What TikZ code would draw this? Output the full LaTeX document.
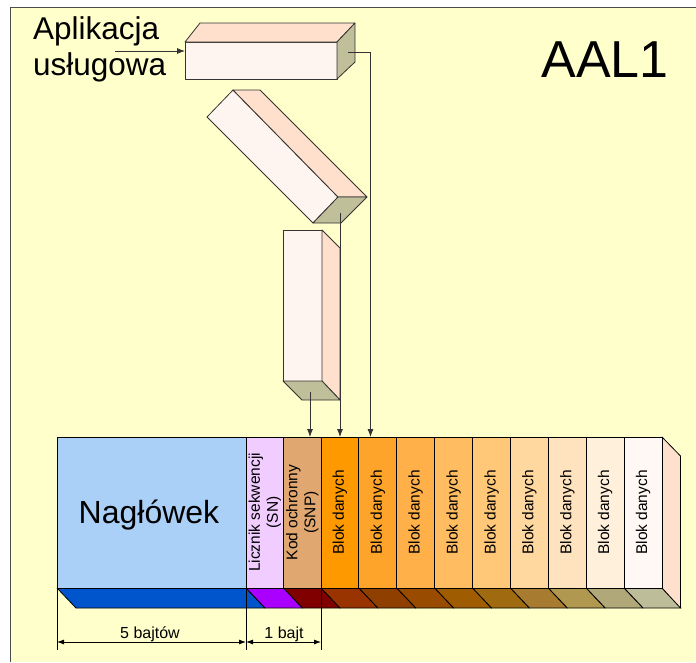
\documentclass[tikz,border=0pt]{standalone}
\usepackage{fontspec}
\setmainfont{Liberation Sans}
\usetikzlibrary{arrows.meta}
\definecolor{bgy}{HTML}{FFFFCC}
\definecolor{boxfront}{HTML}{FFF5F0}
\definecolor{boxpeach}{HTML}{FFE0CC}
\definecolor{boxolive}{HTML}{BFBF99}
\definecolor{nagf}{HTML}{AAD0F8}
\definecolor{nagb}{HTML}{0055CC}
\definecolor{snf}{HTML}{F0CCFF}
\definecolor{snb}{HTML}{AA00FF}
\definecolor{snpf}{HTML}{E0A870}
\definecolor{snpb}{HTML}{800000}
\definecolor{f1}{HTML}{FF9900}
\definecolor{f2}{HTML}{FFA42A}
\definecolor{f3}{HTML}{FFB048}
\definecolor{f4}{HTML}{FFBC60}
\definecolor{f5}{HTML}{FFC878}
\definecolor{f6}{HTML}{FFD8A0}
\definecolor{f7}{HTML}{FFE3BE}
\definecolor{f8}{HTML}{FFF0DC}
\definecolor{f9}{HTML}{FFF8F4}
\definecolor{b1}{HTML}{993300}
\definecolor{b2}{HTML}{8F4000}
\definecolor{b3}{HTML}{994C00}
\definecolor{b4}{HTML}{A05C00}
\definecolor{b5}{HTML}{A06A10}
\definecolor{b6}{HTML}{A87C30}
\definecolor{b7}{HTML}{B09850}
\definecolor{b8}{HTML}{B0A878}
\definecolor{b9}{HTML}{BDBD99}
\tikzset{
  face/.style={draw=black!80, line width=0.8pt, line join=round},
  cell/.style={draw=black, line width=0.8pt, inner sep=0pt, minimum width=151pt, font=\fontsize{15.5}{18}\selectfont, align=center},
  strip/.style={draw=black, line width=0.8pt, line join=round},
  conn/.style={draw=black!80, line width=0.8pt, -{Latex[length=8pt,width=6pt]}},
  dim/.style={draw=black, line width=0.8pt, {Latex[length=7pt,width=5pt]}-{Latex[length=7pt,width=5pt]}},
  ext/.style={draw=black, line width=0.8pt}
}
\begin{document}
\begin{tikzpicture}[x=1pt,y=-1pt]
\useasboundingbox (0,0) rectangle (696,662);
\fill[white] (0,0) rectangle (696,662);
\fill[bgy] (10,7) rectangle (696,662);
\draw[black!70, line width=0.8pt] (10,662) -- (10,7) -- (696,7);

% titles
\node[font=\fontsize{52}{60}\selectfont, anchor=base, inner sep=0pt] (title) at (605,77) {AAL1};
\node[font=\fontsize{31.5}{36}\selectfont, anchor=base west, inner sep=0pt] (app1) at (33,39) {Aplikacja};
\node[font=\fontsize{31.5}{36}\selectfont, anchor=base west, inner sep=0pt] (app2) at (33,75) {usługowa};

% top box
\filldraw[face, fill=boxfront] (185,42) rectangle (337,79);
\filldraw[face, fill=boxpeach] (185,42) -- (200,23) -- (355,23) -- (337,42) -- cycle;
\filldraw[face, fill=boxolive] (337,42) -- (355,23) -- (355,62) -- (337,79) -- cycle;

% tilted box
\filldraw[face, fill=boxfront] (207,117) -- (233,90) -- (338,197) -- (313,223) -- cycle;
\filldraw[face, fill=boxpeach] (233,90) -- (260,90) -- (367,197) -- (338,197) -- cycle;
\filldraw[face, fill=boxolive] (338,197) -- (367,197) -- (341,223) -- (313,223) -- cycle;

% vertical box
\filldraw[face, fill=boxfront] (283,230) rectangle (322,381);
\filldraw[face, fill=boxpeach] (322,230) -- (340,248) -- (340,400) -- (322,381) -- cycle;
\filldraw[face, fill=boxolive] (283,381) -- (322,381) -- (340,400) -- (302,400) -- cycle;

% bar: bottom strip
\filldraw[strip, fill=nagb] (57,588) -- (246,588) -- (265,608) -- (76,608) -- cycle;
\filldraw[strip, fill=snb] (246,588) -- (283.5,588) -- (302.5,608) -- (265,608) -- cycle;
\filldraw[strip, fill=snpb] (283.5,588) -- (321,588) -- (340,608) -- (302.5,608) -- cycle;
\foreach \i in {1,...,9} {
  \pgfmathsetmacro\xl{321+37.89*(\i-1)}
  \pgfmathsetmacro\xr{321+37.89*\i}
  \filldraw[strip, fill=b\i] (\xl,588) -- (\xr,588) -- (\xr+19,608) -- (\xl+19,608) -- cycle;
}
\filldraw[strip, fill=boxpeach] (662,437) -- (680.5,456) -- (680.5,608) -- (662,588) -- cycle;

% bar: front cells
\node[cell, minimum width=189pt, minimum height=151pt, fill=nagf] (nag) at (151.5,512.5) {};
\node[font=\fontsize{32}{36}\selectfont, anchor=base, inner sep=0pt] (nagtext) at (149,523) {Nagłówek};
\node[cell, rotate=90, minimum height=37.5pt, fill=snf] (sn) at (264.75,512.5) {Licznik sekwencji\\(SN)};
\node[cell, rotate=90, minimum height=37.5pt, fill=snpf] (snp) at (302.25,512.5) {Kod ochronny\\(SNP)};
\foreach \i in {1,...,9} {
  \pgfmathsetmacro\xc{321+37.89*(\i-0.5)}
  \node[cell, rotate=90, minimum height=37.89pt, fill=f\i] (blk\i) at (\xc,512.5) {Blok danych};
}

% connectors
\coordinate (appin) at (115,51);
\coordinate (topin) at (185,51);
\draw[conn] (appin) -- (topin);
\coordinate (topout) at (348,52);
\coordinate (t3) at (370.5,437);
\draw[conn] (topout) -| (t3);
\coordinate (tiltout) at (340,213);
\coordinate (t2) at (340,437);
\draw[conn] (tiltout) -- (t2);
\coordinate (vertout) at (310,392);
\coordinate (t1) at (310,437);
\draw[conn] (vertout) -- (t1);

% dimensions
\coordinate (e0) at (57,588);
\coordinate (e1) at (246,588);
\coordinate (e2) at (321,588);
\coordinate (e0b) at (57,650);
\coordinate (e1b) at (246,650);
\coordinate (e2b) at (321,650);
\draw[ext] (e0) -- (e0b);
\draw[ext] (e1) -- (e1b);
\draw[ext] (e2) -- (e2b);
\coordinate (d0) at (57,642);
\coordinate (d1) at (246,642);
\coordinate (d2) at (321,642);
\draw[dim] (d0) -- (d1);
\draw[dim] (d1) -- (d2);
\node[font=\fontsize{16}{18}\selectfont, anchor=base, inner sep=0pt] (lab5) at (150,638) {5 bajtów};
\node[font=\fontsize{16}{18}\selectfont, anchor=base, inner sep=0pt] (lab1) at (284,638) {1 bajt};
\end{tikzpicture}
\end{document}
